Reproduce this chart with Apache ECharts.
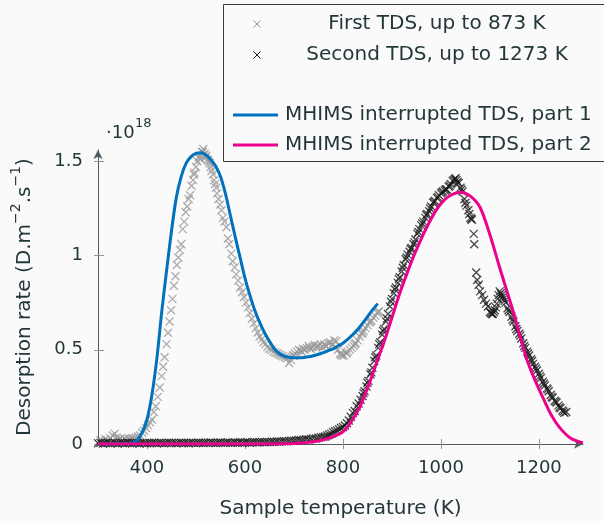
<!DOCTYPE html>
<html><head><meta charset="utf-8">
<script src="https://cdn.jsdelivr.net/npm/echarts@6/dist/echarts.min.js"></script>
<style>html,body{margin:0;padding:0;background:#fafafa}#c{width:604px;height:521px}</style>
</head><body><div id="c"></div>
<script>
const xTicks = [400, 600, 800, 1000, 1200];
const yTicks = [0, 0.5, 1, 1.5];
const legendNames = ['First TDS, up to 873 K', 'Second TDS, up to 1273 K', 'MHIMS interrupted TDS, part 1', 'MHIMS interrupted TDS, part 2'];

// First TDS (grey crosses): [temperature K, rate 1e18]
const firstTDS = [
[305,0.020],[310,0.015],[315,0.025],[320,0.018],[325,0.030],[330,0.045],[334,0.055],[338,0.035],[342,0.025],[346,0.030],
[350,0.020],[354,0.028],[358,0.022],[362,0.030],[366,0.025],[370,0.032],[374,0.028],[378,0.035],[382,0.040],[386,0.045],
[390,0.060],[394,0.070],[398,0.085],[402,0.100],[406,0.115],[410,0.130],[414,0.170],[418,0.200],[422,0.250],[426,0.300],
[430,0.360],[433,0.410],[436,0.460],[440,0.530],[443,0.590],[446,0.650],[449,0.710],[452,0.770],[455,0.840],[458,0.890],
[461,0.950],[464,0.990],[467,1.030],[470,1.060],[473,1.140],[476,1.180],[479,1.230],[482,1.260],[485,1.300],[488,1.320],
[491,1.370],[494,1.400],[496,1.430],[497,1.440],[500,1.470],[503,1.500],[506,1.520],[508,1.530],[509,1.510],[512,1.550],
[514,1.550],[515,1.565],[518,1.540],[520,1.520],[521,1.530],[524,1.510],[526,1.500],[528,1.490],[530,1.470],[532,1.450],
[535,1.430],[537,1.400],[539,1.380],[541,1.360],[543,1.330],[546,1.300],[549,1.270],[552,1.240],
[555,1.200],[558,1.180],[562,1.150],[565,1.090],[568,1.060],[572,1.010],[575,0.970],[579,0.937],[582,0.900],[586,0.867],
[590,0.830],[594,0.805],[598,0.780],[602,0.750],[606,0.725],[610,0.695],[614,0.665],[618,0.640],[622,0.615],[626,0.592],
[630,0.570],[634,0.555],[638,0.540],[642,0.530],[646,0.515],[650,0.505],[654,0.500],[658,0.490],[662,0.485],[666,0.480],
[670,0.475],[674,0.470],[678,0.465],[682,0.460],[686,0.455],[690,0.430],[694,0.445],[698,0.470],[700,0.470],[702,0.480],
[706,0.490],[710,0.500],[714,0.495],[716,0.490],[718,0.505],[722,0.500],[726,0.510],[730,0.520],[732,0.510],[734,0.505],
[738,0.515],[742,0.525],[746,0.510],[748,0.520],[750,0.520],[754,0.530],[758,0.515],[762,0.530],[764,0.520],[766,0.520],
[770,0.535],[774,0.540],[778,0.525],[780,0.530],[782,0.550],[786,0.545],[790,0.500],[794,0.480],[796,0.475],[798,0.470],
[802,0.470],[806,0.485],[808,0.480],[810,0.490],[814,0.500],[818,0.510],[822,0.520],[824,0.530],[826,0.535],[830,0.550],
[834,0.570],[838,0.585],[840,0.590],[842,0.600],[846,0.615],[850,0.630],[854,0.645],[856,0.650],[858,0.655],[862,0.670],
[866,0.680],[870,0.695],[872,0.700],[874,0.705]
];

// Second TDS (black crosses)
const secondTDS = [
[300,0.004],[305,0.006],[310,0.003],[315,0.005],[320,0.007],[325,0.004],[330,0.006],[335,0.005],[340,0.003],[345,0.006],
[350,0.005],[355,0.004],[360,0.007],[365,0.005],[370,0.004],[375,0.006],[380,0.005],[385,0.003],[390,0.006],[395,0.005],
[400,0.004],[405,0.006],[410,0.005],[415,0.007],[420,0.004],[425,0.006],[430,0.005],[435,0.004],[440,0.006],[445,0.007],
[450,0.005],[455,0.006],[460,0.004],[465,0.006],[470,0.007],[475,0.005],[480,0.006],[485,0.004],[490,0.007],[495,0.006],
[500,0.005],[505,0.007],[510,0.006],[515,0.005],[520,0.007],[525,0.006],[530,0.008],[535,0.006],[540,0.005],[545,0.007],
[550,0.008],[555,0.006],[560,0.007],[565,0.008],[570,0.006],[575,0.007],[580,0.008],[585,0.007],[590,0.009],[595,0.007],
[600,0.008],[605,0.009],[610,0.007],[615,0.009],[620,0.010],[625,0.008],[630,0.009],[635,0.010],[640,0.009],[645,0.011],
[650,0.010],[655,0.012],[660,0.011],[665,0.013],[670,0.012],[675,0.014],[680,0.015],[685,0.014],[690,0.016],[695,0.018],
[700,0.017],[705,0.019],[710,0.021],[715,0.020],[720,0.023],[725,0.025],[730,0.024],[735,0.027],[740,0.030],[745,0.029],
[750,0.033],[755,0.036],[760,0.038],[764,0.040],[768,0.045],[772,0.050],[776,0.055],[780,0.062],[784,0.068],[788,0.072],
[792,0.078],[796,0.085],[800,0.090],[804,0.098],[808,0.110],[812,0.125],[816,0.145],[820,0.165],[824,0.175],[828,0.200],
[832,0.215],[836,0.235],[840,0.255],[842,0.270],[844,0.280],[848,0.305],[850,0.325],[852,0.335],[856,0.370],[858,0.380],
[860,0.405],[864,0.440],[866,0.460],[868,0.470],[872,0.510],[874,0.530],[876,0.540],[880,0.580],[882,0.600],[884,0.610],
[888,0.650],[890,0.665],[892,0.690],[896,0.730],[898,0.755],[900,0.770],[904,0.800],[906,0.820],[908,0.830],[912,0.855],
[914,0.875],[916,0.885],[920,0.915],[922,0.935],[924,0.950],[928,0.980],[930,0.990],[932,1.005],[936,1.020],[938,1.035],
[940,1.040],[944,1.060],[946,1.070],[948,1.085],[952,1.115],[954,1.125],[956,1.140],[960,1.160],[962,1.170],[964,1.180],
[968,1.200],[970,1.215],[972,1.220],[976,1.235],[978,1.250],[980,1.260],[984,1.280],[986,1.285],[988,1.290],[992,1.305],
[994,1.310],[996,1.320],[1000,1.330],[1002,1.335],[1004,1.340],[1008,1.345],[1010,1.350],[1012,1.350],[1016,1.365],[1018,1.370],
[1020,1.380],[1024,1.395],[1026,1.400],[1028,1.405],[1030,1.410],[1032,1.400],[1034,1.390],[1036,1.385],[1040,1.360],[1042,1.350],
[1044,1.340],[1048,1.300],[1050,1.280],[1052,1.265],[1056,1.240],[1058,1.220],[1060,1.200],[1062,1.195],[1063,1.190],[1067,1.115],
[1068,1.060],[1072,0.910],[1074,0.870],[1077,0.845],[1080,0.810],[1084,0.790],[1088,0.765],[1092,0.745],[1096,0.730],[1100,0.700],
[1102,0.695],[1104,0.690],[1106,0.690],[1108,0.700],[1110,0.710],[1112,0.725],[1114,0.745],[1116,0.770],[1118,0.790],[1120,0.810],
[1122,0.800],[1124,0.790],[1126,0.780],[1128,0.770],[1130,0.760],[1132,0.750],[1136,0.720],[1138,0.710],[1140,0.700],[1144,0.675],
[1146,0.660],[1148,0.650],[1152,0.625],[1154,0.610],[1156,0.600],[1160,0.585],[1162,0.575],[1164,0.560],[1168,0.535],[1170,0.520],
[1172,0.510],[1176,0.490],[1178,0.480],[1180,0.470],[1184,0.450],[1186,0.440],[1188,0.425],[1192,0.410],[1194,0.400],[1196,0.390],
[1200,0.373],[1202,0.360],[1204,0.350],[1208,0.330],[1210,0.320],[1212,0.310],[1216,0.295],[1218,0.290],[1220,0.280],[1224,0.260],
[1226,0.250],[1228,0.245],[1232,0.230],[1234,0.225],[1236,0.220],[1240,0.205],[1242,0.195],[1244,0.190],[1248,0.178],[1250,0.172],
[1252,0.165],[1256,0.170]
];

// MHIMS model, part 1 (blue)
const mhims1 = [
[300,0],[340,0],[360,0.002],[370,0.006],[380,0.02],[390,0.06],[400,0.13],[410,0.26],[420,0.45],[430,0.70],
[440,0.92],[450,1.13],[460,1.31],[470,1.42],[480,1.49],[490,1.525],[500,1.542],[510,1.546],[520,1.535],[530,1.51],
[540,1.475],[550,1.42],[560,1.33],[570,1.215],[580,1.10],[590,0.99],[600,0.88],[610,0.79],[620,0.71],[630,0.645],
[640,0.59],[650,0.545],[660,0.505],[670,0.48],[680,0.466],[690,0.46],[700,0.458],[710,0.458],[720,0.459],[730,0.463],
[740,0.468],[750,0.476],[760,0.485],[770,0.495],[780,0.505],[790,0.52],[800,0.535],[810,0.557],[820,0.58],[830,0.607],
[840,0.64],[850,0.675],[860,0.71],[871,0.745]
];

// MHIMS model, part 2 (magenta)
const mhims2 = [
[300,0],[600,0],[700,0.003],[740,0.012],[770,0.03],[790,0.05],[800,0.065],[815,0.11],[835,0.2],[855,0.33],
[870,0.44],[885,0.55],[900,0.67],[916,0.8],[930,0.9],[945,1.0],[960,1.09],[975,1.17],[990,1.24],[1005,1.29],
[1020,1.32],[1040,1.336],[1060,1.315],[1080,1.255],[1100,1.11],[1120,0.935],[1147,0.707],[1174,0.46],[1190,0.35],[1208,0.247],
[1225,0.155],[1242,0.088],[1265,0.03],[1290,0.006]
];

const FONT = 'DejaVu Sans';
const TXT = '#23373b';
const AX = '#4f5b60';
const TICK = '#8c9599';
const GREY = '#999999';
const BLACK = '#1a1a1a';
const BLUE = '#0072bd';
const PINK = '#ec008c';
const CROSS = 'path://M0,0L10,10M10,0L0,10';

const chart = echarts.init(document.getElementById('c'), null, {renderer: 'canvas'});

function crossLines(cx, cy, color) {
  const h = 3.5;
  return [
    {type: 'line', silent: true, z: 60, shape: {x1: cx - h, y1: cy - h, x2: cx + h, y2: cy + h}, style: {stroke: color, lineWidth: 1}},
    {type: 'line', silent: true, z: 60, shape: {x1: cx - h, y1: cy + h, x2: cx + h, y2: cy - h}, style: {stroke: color, lineWidth: 1}}
  ];
}

const xBase = {type: 'value', min: 300, max: 1290, gridIndex: 0, splitLine: {show: false}};
const yBase = {type: 'value', min: 0, max: 1.56, gridIndex: 0, splitLine: {show: false}};

chart.setOption({
  animation: false,
  backgroundColor: '#fafafa',
  textStyle: {fontFamily: FONT, color: TXT},
  grid: {left: 98, right: 21, top: 150, bottom: 77, containLabel: false, outerBoundsMode: 'none'},
  xAxis: [
    Object.assign({}, xBase, {
      position: 'bottom',
      name: 'Sample temperature (K)', nameLocation: 'middle', nameGap: 55,
      nameTextStyle: {fontFamily: FONT, fontSize: 20, color: TXT},
      axisLine: {show: true, onZero: false, lineStyle: {color: AX, width: 1}, symbol: ['none', 'arrow'], symbolSize: [7, 9]},
      axisTick: {show: true, inside: false, length: 5, lineStyle: {color: TICK}, customValues: xTicks},
      axisLabel: {show: true, margin: 15, fontFamily: FONT, fontSize: 18, color: TXT, customValues: xTicks,
        formatter: v => String(v)}
    }),
    Object.assign({}, xBase, {
      position: 'bottom',
      axisLine: {show: false, onZero: false},
      axisTick: {show: true, inside: true, length: 5, lineStyle: {color: TICK}, customValues: xTicks},
      axisLabel: {show: false}
    })
  ],
  yAxis: [
    Object.assign({}, yBase, {
      position: 'left',
      name: '{n|Desorption rate (D.m}{s|−2}{n|.s}{s|−1}{n|)}',
      nameLocation: 'middle', nameGap: 63, nameRotate: 90,
      nameTextStyle: {
        fontFamily: FONT, fontSize: 20, color: TXT,
        rich: {
          n: {fontFamily: FONT, fontSize: 20, color: TXT, lineHeight: 26, verticalAlign: 'bottom'},
          s: {fontFamily: FONT, fontSize: 14, color: TXT, lineHeight: 26, verticalAlign: 'top'}
        }
      },
      axisLine: {show: true, onZero: false, lineStyle: {color: AX, width: 1}, symbol: ['none', 'arrow'], symbolSize: [7, 9]},
      axisTick: {show: true, inside: false, length: 4, lineStyle: {color: TICK}, customValues: yTicks},
      axisLabel: {show: true, margin: 15, fontFamily: FONT, fontSize: 18, color: TXT, customValues: yTicks,
        formatter: v => String(v)}
    }),
    Object.assign({}, yBase, {
      position: 'left',
      axisLine: {show: false, onZero: false},
      axisTick: {show: true, inside: true, length: 6, lineStyle: {color: TICK}, customValues: yTicks},
      axisLabel: {show: false}
    })
  ],
  series: [
    {name: legendNames[0], type: 'scatter', data: firstTDS, symbol: CROSS, symbolSize: 8, clip: false,
      itemStyle: {color: 'rgba(0,0,0,0)', borderColor: GREY, borderWidth: 1.3}, emphasis: {disabled: true}, z: 2},
    {name: legendNames[1], type: 'scatter', data: secondTDS, symbol: CROSS, symbolSize: 8, clip: false,
      itemStyle: {color: 'rgba(0,0,0,0)', borderColor: BLACK, borderWidth: 1.3}, emphasis: {disabled: true}, z: 3},
    {name: legendNames[2], type: 'line', data: mhims1, smooth: 0.3, showSymbol: false,
      lineStyle: {color: BLUE, width: 3}, emphasis: {disabled: true}, z: 4},
    {name: legendNames[3], type: 'line', data: mhims2, smooth: 0.3, showSymbol: false,
      lineStyle: {color: PINK, width: 3}, emphasis: {disabled: true}, z: 5}
  ],
  graphic: [
    {type: 'text', left: 106, top: 124, silent: true,
      style: {text: '·10', fontFamily: FONT, fontSize: 18, fill: TXT}},
    {type: 'text', left: 135, top: 117, silent: true,
      style: {text: '18', fontFamily: FONT, fontSize: 13, fill: TXT}},
    {type: 'rect', silent: true, z: 50,
      shape: {x: 223.5, y: 4.5, width: 420, height: 157},
      style: {fill: '#fafafa', stroke: '#3a3a3a', lineWidth: 1}}
  ].concat(crossLines(257, 24, GREY), crossLines(257, 55, BLACK), [
    {type: 'text', silent: true, z: 60, x: 437, y: 24,
      style: {text: legendNames[0], fontFamily: FONT, fontSize: 20, fill: TXT, align: 'center', verticalAlign: 'middle'}},
    {type: 'text', silent: true, z: 60, x: 437, y: 55,
      style: {text: legendNames[1], fontFamily: FONT, fontSize: 20, fill: TXT, align: 'center', verticalAlign: 'middle'}},
    {type: 'line', silent: true, z: 60, shape: {x1: 233, y1: 115, x2: 278, y2: 115}, style: {stroke: BLUE, lineWidth: 3}},
    {type: 'line', silent: true, z: 60, shape: {x1: 233, y1: 145, x2: 278, y2: 145}, style: {stroke: PINK, lineWidth: 3}},
    {type: 'text', silent: true, z: 60, x: 285, y: 115,
      style: {text: legendNames[2], fontFamily: FONT, fontSize: 20, fill: TXT, align: 'left', verticalAlign: 'middle'}},
    {type: 'text', silent: true, z: 60, x: 285, y: 145,
      style: {text: legendNames[3], fontFamily: FONT, fontSize: 20, fill: TXT, align: 'left', verticalAlign: 'middle'}}
  ])
});
</script>
</body></html>
